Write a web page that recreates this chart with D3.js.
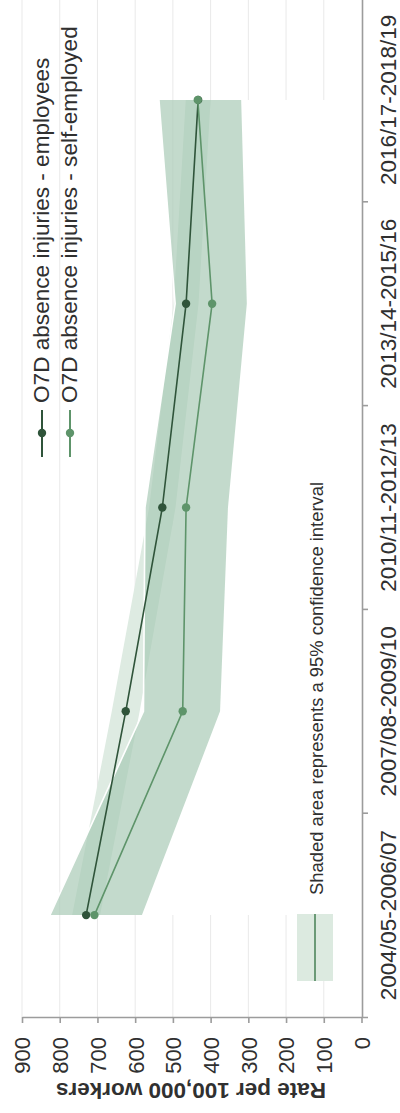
<!DOCTYPE html>
<html>
<head>
<meta charset="utf-8">
<script src="https://cdn.jsdelivr.net/npm/d3@7"></script>
<style>
  html, body { margin: 0; padding: 0; background: #fff; }
  svg { display: block; font-family: "Liberation Sans", Arial, sans-serif; }
</style>
</head>
<body>
<svg id="chart" width="400" height="1113"></svg>
<script>
// Three-year periods (oldest first)
const categories = ["2004/05-2006/07", "2007/08-2009/10", "2010/11-2012/13", "2013/14-2015/16", "2016/17-2018/19"];

// Over-7-day absence injury rates per 100,000 workers
const employees      = [730, 625, 528, 465, 433];
const employeesLower = [693, 588, 493, 432, 400];
const employeesUpper = [767, 662, 563, 498, 466];

const selfEmployed      = [708, 474, 465, 396, 434];
const selfEmployedLower = [582, 375, 354, 304, 319];
const selfEmployedUpper = [826, 578, 574, 494, 537];

const valueTicks = [0, 100, 200, 300, 400, 500, 600, 700, 800, 900];

const seriesNames = ["O7D absence injuries - employees", "O7D absence injuries - self-employed"];
const axisTitle = "Rate per 100,000 workers";
const noteText = "Shaded area represents a 95% confidence interval";

const svg = d3.select("#chart");

// Value runs right-to-left, periods run bottom-to-top
const x = d3.scaleLinear().domain([0, 900]).range([361.5, 22]);
const y = d3.scaleBand().domain(categories).range([1017, -2]).padding(0);
const yc = c => y(c) + y.bandwidth() / 2;

const colDark = "#2f543a";
const colLight = "#5e946a";
const axisCol = "#9c9c9c";
const textCol = "#303030";

// Gridlines
svg.append("g").selectAll("line")
  .data(valueTicks.filter(v => v > 0))
  .join("line")
  .attr("x1", d => x(d)).attr("x2", d => x(d))
  .attr("y1", -2).attr("y2", 1017)
  .attr("stroke", "#e9e9e9").attr("stroke-width", 1);

const rows = (lo, hi) => categories.map((c, i) => ({ c, lo: lo[i], hi: hi[i] }));
const band = d3.area()
  .y(d => yc(d.c))
  .x0(d => x(d.lo))
  .x1(d => x(d.hi));
const base = d3.area()
  .y(d => yc(d.c))
  .x0(() => x(0))
  .x1(d => x(d.lo));

const empRows = rows(employeesLower, employeesUpper);
const selfRows = rows(selfEmployedLower, selfEmployedUpper);

// Employees: masked base + band
svg.append("path").attr("d", base(empRows)).attr("fill", "#fff");
svg.append("path").attr("d", band(empRows)).attr("fill", "rgb(222,235,226)");

// Self-employed: masked base + band
svg.append("path").attr("d", base(selfRows)).attr("fill", "#fff");
svg.append("path").attr("d", band(selfRows)).attr("fill", "rgba(166,200,179,0.67)");
const upperEdge = d3.line().y(d => yc(d.c)).x(d => x(d.hi));
svg.append("path").attr("d", upperEdge(selfRows))
  .attr("fill", "none").attr("stroke", "#fff").attr("stroke-width", 1.6);

// Series lines with markers
const line = d3.line().x(d => x(d.v)).y(d => yc(d.c));
[[employees, colDark], [selfEmployed, colLight]].forEach(([vals, col]) => {
  const pts = categories.map((c, i) => ({ c, v: vals[i] }));
  svg.append("path").attr("d", line(pts))
    .attr("fill", "none").attr("stroke", col).attr("stroke-width", 1.6);
  svg.append("g").selectAll("circle").data(pts).join("circle")
    .attr("cx", d => x(d.v)).attr("cy", d => yc(d.c)).attr("r", 4.2)
    .attr("fill", col);
});

// Value axis (bottom)
const xAxis = svg.append("g")
  .attr("transform", "translate(0,1017)")
  .call(d3.axisBottom(x).tickValues(valueTicks).tickSize(6).tickSizeOuter(0));
xAxis.select(".domain").attr("stroke", axisCol).attr("stroke-width", 1.6);
xAxis.selectAll(".tick line").attr("stroke", axisCol).attr("stroke-width", 1.6);
xAxis.selectAll(".tick text")
  .attr("transform", "rotate(-90)")
  .attr("x", -20).attr("y", 0).attr("dy", "0.36em")
  .attr("text-anchor", "end")
  .attr("font-size", 22).attr("fill", textCol)
  .attr("font-family", "Liberation Sans, Arial, sans-serif");

// Category axis (right)
const yAxis = svg.append("g")
  .attr("transform", "translate(362,0)")
  .call(d3.axisRight(y).tickSize(0).tickSizeOuter(6));
yAxis.select(".domain").attr("stroke", axisCol).attr("stroke-width", 1.6);
yAxis.selectAll(".tick text")
  .attr("transform", "rotate(-90)")
  .attr("x", 0).attr("y", 26).attr("dy", "0.36em")
  .attr("text-anchor", "middle")
  .attr("font-size", 22.5).attr("fill", textCol)
  .attr("font-family", "Liberation Sans, Arial, sans-serif");
// Tick marks between periods
yAxis.append("g").selectAll("line")
  .data(categories.slice(0, -1))
  .join("line")
  .attr("x1", 0).attr("x2", 6)
  .attr("y1", d => y(d)).attr("y2", d => y(d))
  .attr("stroke", axisCol).attr("stroke-width", 1.6);

// Axis title
svg.append("text")
  .attr("transform", "translate(191,1090) rotate(180)")
  .attr("text-anchor", "middle").attr("dominant-baseline", "central")
  .attr("font-size", 22.5).attr("font-weight", "bold").attr("fill", textCol)
  .text(axisTitle);

// Series legend
[[colDark, 42], [colLight, 70]].forEach(([col, lx], i) => {
  svg.append("line")
    .attr("x1", lx).attr("x2", lx).attr("y1", 410).attr("y2", 457)
    .attr("stroke", col).attr("stroke-width", 2);
  svg.append("circle").attr("cx", lx).attr("cy", 433).attr("r", 4.2).attr("fill", col);
  svg.append("text")
    .attr("transform", `translate(${lx - 1},403) rotate(-90)`)
    .attr("text-anchor", "start").attr("dominant-baseline", "central")
    .attr("font-size", 22.6).attr("fill", textCol)
    .text(seriesNames[i]);
});

// Confidence-interval note with swatch
svg.append("rect").attr("x", 297).attr("y", 914).attr("width", 36).attr("height", 67)
  .attr("fill", "rgb(220,234,224)");
svg.append("line").attr("x1", 315).attr("x2", 315).attr("y1", 914).attr("y2", 981)
  .attr("stroke", "#6b9a77").attr("stroke-width", 2);
svg.append("text")
  .attr("transform", "translate(316,895) rotate(-90)")
  .attr("text-anchor", "start").attr("dominant-baseline", "central")
  .attr("font-size", 18.4).attr("fill", textCol)
  .text(noteText);
</script>
</body>
</html>
